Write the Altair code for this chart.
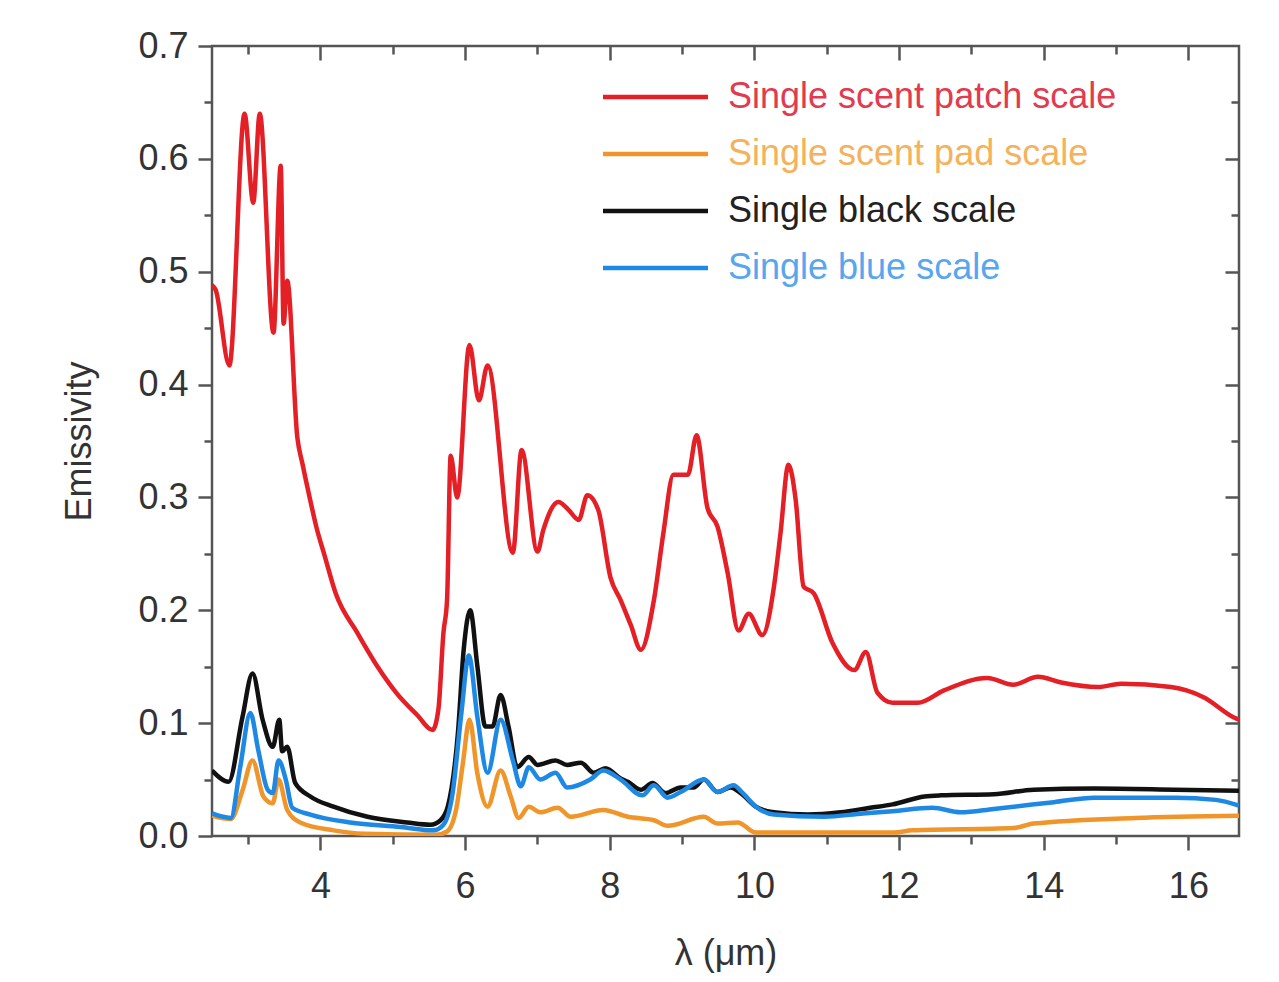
import altair as alt
import pandas as pd

series_names = ["Single scent patch scale", "Single scent pad scale",
                "Single black scale", "Single blue scale"]
line_colors = ["#e41f26", "#f0952a", "#111111", "#1e88e5"]
text_colors = ["#e23a4e", "#f4b25c", "#222222", "#58a6ee"]

red_x = [2.5, 2.55, 2.74, 2.95, 3.07, 3.16, 3.35, 3.45, 3.49, 3.54, 3.68, 3.75, 3.85,
         3.95, 4.05, 4.21, 4.51, 4.79, 5.06, 5.34, 5.55, 5.63, 5.70, 5.75, 5.80, 5.89,
         6.06, 6.19, 6.31, 6.66, 6.78, 7.00, 7.08, 7.29, 7.43, 7.57, 7.69, 7.84, 8.01,
         8.15, 8.29, 8.43, 8.61, 8.74, 8.88, 9.08, 9.20, 9.35, 9.49, 9.63, 9.78, 9.92,
         10.11, 10.27, 10.36, 10.47, 10.57, 10.68, 10.82, 11.08, 11.38, 11.54, 11.70,
         11.91, 12.26, 12.62, 13.22, 13.58, 13.92, 14.24, 14.75, 15.07, 15.76, 16.21,
         16.63, 16.7]
red_y = [0.488, 0.484, 0.417, 0.640, 0.561, 0.640, 0.446, 0.594, 0.454, 0.492, 0.353,
         0.330, 0.300, 0.272, 0.250, 0.215, 0.180, 0.150, 0.126, 0.107, 0.094, 0.112,
         0.180, 0.209, 0.337, 0.300, 0.435, 0.386, 0.417, 0.251, 0.342, 0.252, 0.271,
         0.296, 0.289, 0.280, 0.302, 0.289, 0.229, 0.209, 0.187, 0.165, 0.209, 0.268,
         0.320, 0.320, 0.355, 0.291, 0.274, 0.233, 0.182, 0.197, 0.178, 0.221, 0.268,
         0.329, 0.298, 0.221, 0.215, 0.171, 0.147, 0.163, 0.127, 0.118, 0.118, 0.129,
         0.140, 0.134, 0.141, 0.136, 0.132, 0.135, 0.132, 0.123, 0.105, 0.103]

orange_x = [2.5, 2.76, 2.92, 3.06, 3.21, 3.34, 3.42, 3.54, 3.72, 4.18, 4.6, 5.6, 5.75,
            5.88, 5.97, 6.06, 6.17, 6.31, 6.49, 6.63, 6.74, 6.88, 7.04, 7.28, 7.46, 7.91,
            8.25, 8.61, 8.80, 9.30, 9.49, 9.77, 10.02, 11.91, 12.19, 13.58, 13.86, 15.26,
            16.7]
orange_y = [0.018, 0.015, 0.040, 0.067, 0.035, 0.029, 0.050, 0.023, 0.012, 0.005, 0.002,
            0.001, 0.004, 0.025, 0.065, 0.103, 0.055, 0.026, 0.058, 0.035, 0.016, 0.026,
            0.021, 0.025, 0.017, 0.023, 0.017, 0.014, 0.009, 0.017, 0.011, 0.012, 0.003,
            0.003, 0.005, 0.007, 0.011, 0.016, 0.018]

black_x = [2.5, 2.73, 2.92, 3.06, 3.20, 3.34, 3.43, 3.47, 3.54, 3.65, 3.86, 4.18, 4.65,
           5.20, 5.52, 5.66, 5.76, 5.90, 5.98, 6.07, 6.17, 6.28, 6.38, 6.49, 6.60, 6.72,
           6.88, 7.00, 7.25, 7.41, 7.60, 7.78, 7.94, 8.15, 8.25, 8.43, 8.59, 8.77, 8.98,
           9.16, 9.30, 9.49, 9.67, 9.81, 10.02, 10.27, 10.74, 11.19, 11.6, 11.91, 12.35,
           12.58, 13.31, 13.86, 14.7, 15.81, 16.7]
black_y = [0.058, 0.048, 0.105, 0.144, 0.103, 0.079, 0.103, 0.075, 0.079, 0.047, 0.035,
           0.026, 0.017, 0.012, 0.010, 0.014, 0.026, 0.091, 0.165, 0.200, 0.150, 0.097,
           0.097, 0.125, 0.097, 0.061, 0.070, 0.063, 0.067, 0.063, 0.065, 0.056, 0.060,
           0.051, 0.048, 0.041, 0.047, 0.038, 0.043, 0.043, 0.050, 0.039, 0.043, 0.038,
           0.026, 0.021, 0.019, 0.021, 0.025, 0.028, 0.035, 0.036, 0.037, 0.041, 0.042,
           0.041, 0.040]

blue_x = [2.5, 2.76, 2.89, 3.03, 3.14, 3.27, 3.34, 3.42, 3.52, 3.61, 3.86, 4.41, 5.11,
          5.56, 5.70, 5.82, 5.95, 6.05, 6.17, 6.31, 6.49, 6.66, 6.77, 6.88, 7.04, 7.25,
          7.41, 7.73, 7.91, 8.15, 8.45, 8.61, 8.80, 8.98, 9.30, 9.49, 9.71, 9.84, 10.02,
          10.27, 10.96, 11.5, 11.91, 12.46, 12.85, 13.31, 14.14, 14.7, 15.81, 16.38, 16.7]
blue_y = [0.020, 0.016, 0.061, 0.109, 0.076, 0.041, 0.038, 0.067, 0.050, 0.025, 0.019,
          0.012, 0.008, 0.005, 0.010, 0.035, 0.110, 0.160, 0.105, 0.056, 0.103, 0.067,
          0.044, 0.061, 0.050, 0.056, 0.043, 0.050, 0.058, 0.050, 0.036, 0.045, 0.034,
          0.039, 0.050, 0.039, 0.045, 0.038, 0.026, 0.019, 0.017, 0.020, 0.022, 0.025,
          0.021, 0.024, 0.030, 0.034, 0.034, 0.032, 0.027]

x_major = [4, 6, 8, 10, 12, 14, 16]
x_minor = [3, 5, 7, 9, 11, 13, 15]
y_major = [0.0, 0.1, 0.2, 0.3, 0.4, 0.5, 0.6, 0.7]
y_minor = [0.05, 0.15, 0.25, 0.35, 0.45, 0.55, 0.65]

rows = []
for name, xs_, ys_ in zip(series_names, [red_x, orange_x, black_x, blue_x],
                          [red_y, orange_y, black_y, blue_y]):
    for i, (a, b) in enumerate(zip(xs_, ys_)):
        rows.append({"series": name, "wl": a, "em": b, "i": i})
df = pd.DataFrame(rows)

legend_df = pd.DataFrame({"series": series_names, "lcolor": line_colors,
                          "tcolor": text_colors})

W, H = 1027, 790
FONT = "Liberation Sans"
TICK = "#555555"
xs = alt.Scale(domain=[2.5, 16.7], nice=False, zero=False)
ys = alt.Scale(domain=[0, 0.7], nice=False, zero=False)


def axis(orient, values, size, labels=False, title=None, offset=0, **kw):
    args = dict(orient=orient, values=values, tickSize=size, labels=labels,
                domain=False, grid=False, tickColor=TICK, tickWidth=2.5,
                offset=offset)
    args["title"] = title
    args.update(kw)
    return alt.Axis(**args)


lines = alt.Chart(df).mark_line(strokeWidth=4.5, clip=True, interpolate="monotone").encode(
    x=alt.X("wl:Q", scale=xs,
            axis=axis("bottom", x_major, 14, labels=True, title="λ (μm)",
                      labelPadding=19, titlePadding=32)),
    y=alt.Y("em:Q", scale=ys,
            axis=axis("left", y_major, 14, labels=True, title="Emissivity",
                      format=".1f", labelPadding=10, titlePadding=39)),
    color=alt.Color("series:N", scale=alt.Scale(domain=series_names, range=line_colors),
                    legend=None),
    order=alt.Order("i:Q"),
)


def tick_layer(xo, xv, xsz, xoff, yo, yv, ysz, yoff):
    return alt.Chart(df).mark_point(opacity=0).encode(
        x=alt.X("wl:Q", scale=xs, axis=axis(xo, xv, xsz, offset=xoff)),
        y=alt.Y("em:Q", scale=ys, axis=axis(yo, yv, ysz, offset=yoff)),
    )


minor_out = tick_layer("bottom", x_minor, 8, 0, "left", y_minor, 8, 0)
major_in = tick_layer("bottom", x_major, 14, -H, "left", y_major[1:-1], 14, -W)
minor_in = tick_layer("bottom", x_minor, 8, -H, "left", y_minor, 8, -W)

leg_y = alt.Y("series:N", sort=series_names,
              scale=alt.Scale(type="point", domain=series_names, range=[51, 222], padding=0),
              axis=None)
leg_base = alt.Chart(legend_df).encode(y=leg_y)
leg_rules = leg_base.mark_rule(strokeWidth=4.5).encode(
    x=alt.value(391), x2=alt.value(496),
    color=alt.Color("lcolor:N", scale=None),
)
leg_text = leg_base.mark_text(
    align="left", baseline="middle", fontSize=36, font=FONT
).encode(
    x=alt.value(516), text="series:N",
    color=alt.Color("tcolor:N", scale=None),
)
legend = alt.layer(leg_rules, leg_text)

chart = alt.layer(
    lines, minor_out, major_in, minor_in, legend
).resolve_scale(y="independent").resolve_axis(
    x="independent", y="independent"
).properties(
    width=W, height=H,
    padding={"left": 204, "top": 38, "right": 32, "bottom": 138},
    autosize=alt.AutoSizeParams(type="none"),
).configure_view(
    stroke=TICK, strokeWidth=2.5
).configure_axis(
    labelFont=FONT, labelFontSize=36, labelColor="#333333",
    titleFont=FONT, titleFontSize=36, titleFontWeight="normal", titleColor="#333333",
)

chart.save("out.html", embed_options={"renderer": "svg", "actions": False})
